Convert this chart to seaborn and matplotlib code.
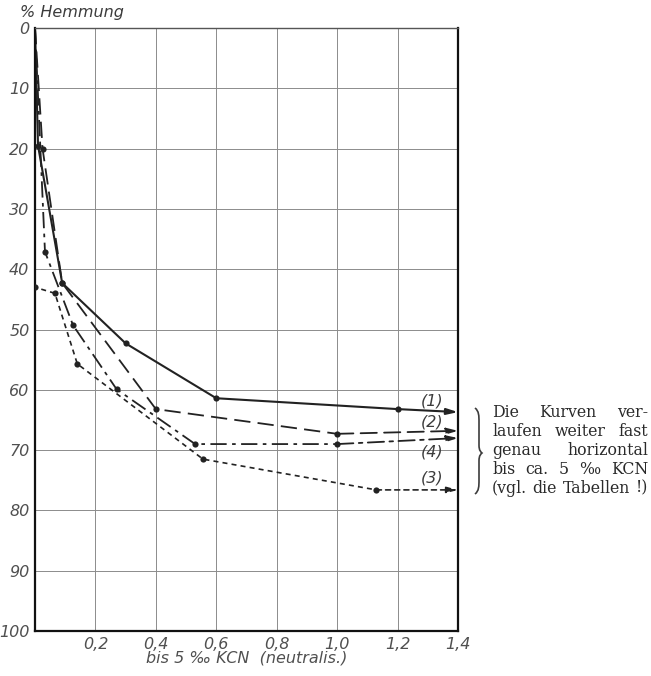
import matplotlib
matplotlib.use("Agg")
import matplotlib.pyplot as plt
from matplotlib.path import Path
from matplotlib.patches import PathPatch
import seaborn as sns
import pandas as pd

# KCN concentration (x) and inhibition in % (y) for the four curves
x1 = [0.0, 0.01, 0.09, 0.30, 0.60, 1.20]
y1 = [0.0, 19.5, 42.3, 52.3, 61.4, 63.2]
x2 = [0.0, 0.025, 0.09, 0.40, 1.00]
y2 = [0.0, 20.0, 42.3, 63.2, 67.3]
x3 = [0.0, 0.0, 0.066, 0.14, 0.556, 1.13]
y3 = [0.0, 43.0, 44.0, 55.7, 71.5, 76.6]
x4 = [0.0, 0.033, 0.126, 0.27, 0.53, 1.00]
y4 = [0.0, 37.1, 49.3, 59.9, 69.0, 69.0]

# level each curve reaches at the right edge (continues horizontally)
end_x = 1.4
end_y = {"1": 63.7, "2": 66.8, "3": 76.6, "4": 68.0}

curve_labels = {"1": "(1)", "2": "(2)", "3": "(3)", "4": "(4)"}
label_y = {"1": 61.9, "2": 65.4, "4": 70.3, "3": 74.6}
x_ticks = [0.2, 0.4, 0.6, 0.8, 1.0, 1.2, 1.4]
x_tick_labels = ["0,2", "0,4", "0,6", "0,8", "1,0", "1,2", "1,4"]
y_ticks = [0, 10, 20, 30, 40, 50, 60, 70, 80, 90, 100]

note = ["Die Kurven ver-", "laufen weiter fast", "genau horizontal",
        "bis ca. 5 ‰ KCN", "(vgl. die Tabellen !)"]

sns.set_theme(style="white")
plt.rcParams["font.family"] = ["DejaVu Sans"]

W, H = 651, 676
fig = plt.figure(figsize=(W / 100, H / 100), dpi=100)
ax = fig.add_axes([35 / W, 45 / H, 423 / W, 603 / H])

styles = {
    "1": dict(linestyle="-", lw=1.5),
    "2": dict(linestyle=(0, (9, 4)), lw=1.3),
    "3": dict(linestyle=(0, (3, 2.5)), lw=1.2),
    "4": dict(linestyle=(0, (9, 3, 2, 3)), lw=1.3),
}
series = {"1": (x1, y1), "2": (x2, y2), "3": (x3, y3), "4": (x4, y4)}
ink = "#222222"
soft = "#3c3c3c"

for key, (xs, ys) in series.items():
    df = pd.DataFrame({"x": xs, "y": ys})
    sns.lineplot(data=df, x="x", y="y", ax=ax, sort=False, estimator=None,
                 color=ink, **styles[key])
    # measured points (origin is not marked)
    sns.scatterplot(data=df.iloc[1:], x="x", y="y", ax=ax, color=ink,
                    s=20, edgecolor=ink, linewidth=0, zorder=5)
    # continuation to the right edge with arrow head
    ax.annotate("", xy=(end_x, end_y[key]), xytext=(xs[-1], ys[-1]),
                arrowprops=dict(arrowstyle="-|>,head_length=0.55,head_width=0.15",
                                color=ink, lw=styles[key]["lw"],
                                linestyle=styles[key]["linestyle"],
                                shrinkA=0, shrinkB=0))
    ax.text(1.315, label_y[key], curve_labels[key], fontsize=11.5,
            style="italic", color=soft, ha="center", va="center")

ax.set_xlim(0, 1.4)
ax.set_ylim(100, 0)
ax.set_xticks(x_ticks)
ax.set_xticklabels(x_tick_labels, style="italic", fontsize=11.5, color="#505050")
ax.set_yticks(y_ticks)
ax.set_yticklabels([str(v) for v in y_ticks], style="italic", fontsize=11.5,
                   color="#505050")
ax.tick_params(axis="both", length=0, pad=4)
ax.set_xlabel("bis 5 ‰ KCN  (neutralis.)", style="italic", fontsize=11.5,
              color="#505050", labelpad=-1)
ax.set_ylabel("")
ax.grid(True, color="#8c8c8c", lw=0.7)
for side in ("left", "bottom", "right"):
    ax.spines[side].set_color("#111111")
    ax.spines[side].set_linewidth(1.6)
ax.spines["top"].set_color("#555555")
ax.spines["top"].set_linewidth(1.0)

fig.text(20 / W, 1 - 12 / H, "% Hemmung", style="italic", fontsize=11.5,
         color=soft, va="center", ha="left")


def fx(px):
    return px / W


def fy(py):
    return 1 - py / H


# thin curly brace "}" on the right, tip pointing toward the note
bx, btop, bmid, bbot, bw = 480, 408, 453, 494, 5
pts = [
    (bx - bw, btop),
    (bx - 1, btop + 3), (bx - 1, btop + 8), (bx - 1, btop + 14),
    (bx - 1, bmid - 8),
    (bx - 1, bmid - 2), (bx + 1, bmid - 1), (bx + 2, bmid),
    (bx + 1, bmid + 1), (bx - 1, bmid + 2), (bx - 1, bmid + 8),
    (bx - 1, bbot - 14),
    (bx - 1, bbot - 8), (bx - 1, bbot - 3), (bx - bw, bbot),
]
codes = [Path.MOVETO,
         Path.CURVE4, Path.CURVE4, Path.CURVE4,
         Path.LINETO,
         Path.CURVE4, Path.CURVE4, Path.CURVE4,
         Path.CURVE4, Path.CURVE4, Path.CURVE4,
         Path.LINETO,
         Path.CURVE4, Path.CURVE4, Path.CURVE4]
verts = [(fx(px), fy(py)) for px, py in pts]
fig.add_artist(PathPatch(Path(verts, codes), transform=fig.transFigure,
                         fill=False, lw=1.2, edgecolor=soft))

# justified note text
x_left, x_right = 492, 648
renderer = fig.canvas.get_renderer()
for i, line in enumerate(note):
    py = 413 + i * 18.8
    words = line.split(" ")
    arts = [fig.text(0, fy(py), w, fontsize=11.3, family="DejaVu Serif",
                     color="#2a2a2a", ha="left", va="center") for w in words]
    widths = [a.get_window_extent(renderer).width for a in arts]
    gap = (x_right - x_left - sum(widths)) / max(len(words) - 1, 1)
    gap = max(gap, 3.0)
    xpos = x_left
    for a, w in zip(arts, widths):
        a.set_x(fx(xpos))
        xpos += w + gap

fig.savefig("out.png", dpi=100)
